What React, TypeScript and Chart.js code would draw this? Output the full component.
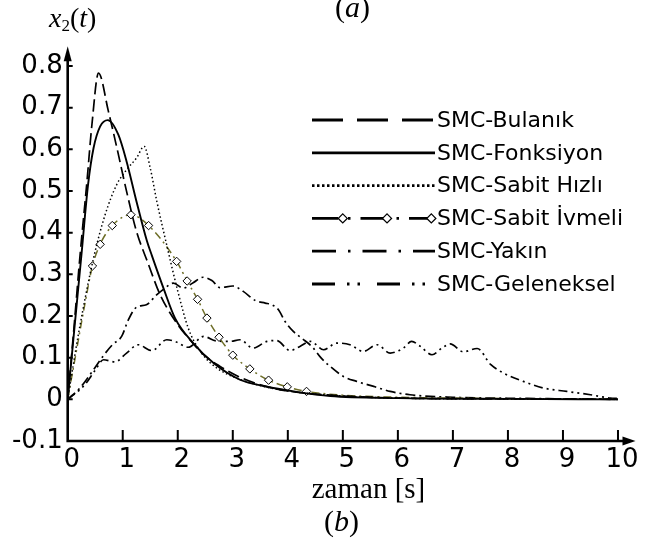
import React, { useEffect, useRef } from 'react';
import { Chart, registerables } from 'chart.js';

Chart.register(...registerables);

// ---- data ----
const xTicks = [0, 1, 2, 3, 4, 5, 6, 7, 8, 9, 10];
const yTicks = [-0.1, 0, 0.1, 0.2, 0.3, 0.4, 0.5, 0.6, 0.7, 0.8];

const seriesLabels = [
  'SMC-Bulanık',
  'SMC-Fonksiyon',
  'SMC-Sabit Hızlı',
  'SMC-Sabit İvmeli',
  'SMC-Yakın',
  'SMC-Geleneksel',
];

const tBulanik = [0, 0.1, 0.22, 0.35, 0.44, 0.56, 0.74, 0.9, 1.07, 1.25, 1.45, 1.68, 1.98, 2.22, 2.47, 2.77, 3.1, 3.5, 4.0, 5.0, 6.0, 8.0, 10];
const vBulanik = [0, 0.15, 0.339, 0.523, 0.659, 0.783, 0.691, 0.6, 0.499, 0.403, 0.33, 0.251, 0.183, 0.143, 0.107, 0.079, 0.055, 0.035, 0.02, 0.008, 0.003, 0.001, 0];

const tFonksiyon = [0, 0.1, 0.25, 0.37, 0.47, 0.59, 0.73, 0.92, 1.07, 1.25, 1.44, 1.53, 1.74, 1.95, 2.28, 2.65, 3.13, 3.56, 4.16, 4.77, 6.0, 8.0, 10];
const vFonksiyon = [0, 0.14, 0.347, 0.515, 0.603, 0.655, 0.67, 0.635, 0.571, 0.475, 0.38, 0.345, 0.267, 0.195, 0.135, 0.087, 0.047, 0.032, 0.018, 0.008, 0.003, 0.001, 0];

const tHizli = [0, 0.2, 0.47, 0.68, 0.89, 1.07, 1.25, 1.39, 1.5, 1.62, 1.8, 2.0, 2.19, 2.41, 2.71, 3.07, 3.5, 4.0, 5.0, 6.0, 8.0, 10];
const vHizli = [0, 0.16, 0.339, 0.443, 0.515, 0.551, 0.579, 0.607, 0.555, 0.475, 0.37, 0.26, 0.171, 0.115, 0.075, 0.051, 0.033, 0.02, 0.008, 0.003, 0.001, 0];

const tIvmeli = [0, 0.15, 0.3, 0.45, 0.59, 0.81, 1.15, 1.47, 1.98, 2.17, 2.36, 2.53, 2.75, 3.0, 3.31, 3.65, 3.99, 4.34, 5.0, 6.0, 7.0, 8.5, 10];
const vIvmeli = [0, 0.11, 0.22, 0.32, 0.372, 0.417, 0.443, 0.417, 0.331, 0.284, 0.24, 0.195, 0.149, 0.106, 0.073, 0.046, 0.03, 0.019, 0.01, 0.005, 0.003, 0.001, 0];

const tYakin = [0, 0.22, 0.47, 0.65, 0.82, 0.98, 1.1, 1.25, 1.43, 1.61, 1.75, 1.92, 2.1, 2.28, 2.46, 2.62, 2.77, 3.0, 3.19, 3.41, 3.59, 3.71, 3.83, 3.95, 4.1, 4.25, 4.45, 4.6, 4.77, 5.01, 5.25, 5.56, 5.86, 6.22, 7.0, 8.5, 10];
const vYakin = [0, 0.027, 0.071, 0.105, 0.132, 0.151, 0.19, 0.221, 0.227, 0.25, 0.265, 0.279, 0.267, 0.28, 0.293, 0.285, 0.268, 0.272, 0.259, 0.237, 0.231, 0.227, 0.215, 0.187, 0.163, 0.147, 0.125, 0.1, 0.079, 0.055, 0.043, 0.031, 0.019, 0.011, 0.005, 0.002, 0];

const tGeleneksel = [0, 0.31, 0.5, 0.65, 0.86, 1.07, 1.28, 1.53, 1.8, 1.95, 2.19, 2.47, 2.7, 2.95, 3.13, 3.37, 3.62, 3.8, 4.04, 4.22, 4.41, 4.65, 4.89, 5.13, 5.37, 5.62, 5.86, 6.1, 6.25, 6.41, 6.62, 6.8, 6.95, 7.19, 7.44, 7.69, 7.92, 8.28, 8.65, 9.07, 9.5, 9.86, 10];
const vGeleneksel = [0, 0.035, 0.07, 0.095, 0.09, 0.111, 0.131, 0.117, 0.143, 0.139, 0.125, 0.151, 0.14, 0.139, 0.143, 0.123, 0.139, 0.141, 0.117, 0.127, 0.139, 0.119, 0.135, 0.131, 0.115, 0.131, 0.111, 0.123, 0.139, 0.127, 0.107, 0.123, 0.133, 0.114, 0.122, 0.083, 0.063, 0.043, 0.027, 0.019, 0.011, 0.003, 0.002];

// ---- styles ----
const SANS = '"DejaVu Sans", sans-serif';
const SERIF = '"Liberation Serif", "Times New Roman", serif';
const OLIVE = '#6e6e28';

const pts = (t: number[], v: number[]) => t.map((x, i) => ({ x, y: v[i] }));

const legendDash: number[][] = [
  [31, 14],
  [],
  [2.5, 2.5],
  [26, 10, 2.5, 10],
  [24, 12, 2.5, 12],
  [23, 12, 2.5, 8, 2.5, 17],
];

const decorPlugin = {
  id: 'decor',
  afterDraw(chart: any) {
    const { ctx } = chart;
    const xs = chart.scales.x;
    const ys = chart.scales.y;
    const x0 = xs.getPixelForValue(0);
    const yb = ys.getPixelForValue(-0.1);
    const xEnd = xs.right;
    const yTop = ys.top;
    ctx.save();
    ctx.strokeStyle = '#000';
    ctx.fillStyle = '#000';
    ctx.setLineDash([]);
    ctx.lineCap = 'butt';
    // axes
    ctx.lineWidth = 2.6;
    ctx.beginPath();
    ctx.moveTo(x0, yb + 1.3);
    ctx.lineTo(x0, yTop + 8);
    ctx.moveTo(x0 - 1.3, yb);
    ctx.lineTo(xEnd - 8, yb);
    ctx.stroke();
    // arrows
    ctx.beginPath();
    ctx.moveTo(x0, yTop - 3);
    ctx.lineTo(x0 - 4, yTop + 12);
    ctx.lineTo(x0 + 4, yTop + 12);
    ctx.closePath();
    ctx.fill();
    ctx.beginPath();
    ctx.moveTo(xEnd + 1, yb);
    ctx.lineTo(xEnd - 12, yb - 4.5);
    ctx.lineTo(xEnd - 12, yb + 4.5);
    ctx.closePath();
    ctx.fill();
    // ticks (inward)
    ctx.lineWidth = 2;
    ctx.beginPath();
    xTicks.forEach((t) => {
      if (t === 0) return;
      const px = xs.getPixelForValue(t);
      ctx.moveTo(px, yb);
      ctx.lineTo(px, yb - 11);
    });
    yTicks.forEach((v) => {
      const py = ys.getPixelForValue(v);
      ctx.moveTo(x0, py);
      ctx.lineTo(x0 + 5, py);
    });
    ctx.stroke();

    // legend
    const lx1 = 312;
    const lx2 = 435;
    const ly0 = 120;
    const ldy = 32.8;
    chart.data.datasets.forEach((ds: any, i: number) => {
      const yy = ly0 + i * ldy;
      ctx.save();
      ctx.strokeStyle = '#000';
      ctx.lineWidth = 2.8;
      ctx.setLineDash(legendDash[i]);
      ctx.beginPath();
      ctx.moveTo(lx1, yy);
      ctx.lineTo(lx2, yy);
      ctx.stroke();
      ctx.setLineDash([]);
      if (ds.pointStyle === 'rectRot') {
        [0.25, 0.61, 0.97].forEach((f) => {
          const cx = lx1 + (lx2 - lx1) * f;
          const r = 4.5;
          ctx.beginPath();
          ctx.moveTo(cx, yy - r);
          ctx.lineTo(cx + r, yy);
          ctx.lineTo(cx, yy + r);
          ctx.lineTo(cx - r, yy);
          ctx.closePath();
          ctx.fillStyle = '#fff';
          ctx.fill();
          ctx.lineWidth = 1.3;
          ctx.stroke();
        });
      }
      ctx.fillStyle = '#000';
      ctx.font = `22px ${SANS}`;
      ctx.textBaseline = 'middle';
      ctx.textAlign = 'left';
      ctx.fillText(ds.label, lx2 + 2, yy + 1);
      ctx.restore();
    });

    // texts
    ctx.fillStyle = '#000';
    ctx.textBaseline = 'alphabetic';
    ctx.textAlign = 'left';
    const seq = (parts: [string, string, number][], startX: number, baseY: number) => {
      let cx = startX;
      parts.forEach(([txt, font, dy]) => {
        ctx.font = font;
        ctx.fillText(txt, cx, baseY + dy);
        cx += ctx.measureText(txt).width;
      });
    };
    const seqWidth = (parts: [string, string, number][]) => {
      let w = 0;
      parts.forEach(([txt, font]) => {
        ctx.font = font;
        w += ctx.measureText(txt).width;
      });
      return w;
    };
    // y label x2(t)
    seq(
      [
        ['x', `italic 28px ${SERIF}`, 0],
        ['2', `17px ${SERIF}`, 4],
        ['(', `28px ${SERIF}`, 0],
        ['t', `italic 28px ${SERIF}`, 0],
        [')', `28px ${SERIF}`, 0],
      ],
      49,
      27
    );
    // (a)
    const aParts: [string, string, number][] = [
      ['(', `30px ${SERIF}`, 0],
      ['a', `italic 30px ${SERIF}`, 0],
      [')', `30px ${SERIF}`, 0],
    ];
    seq(aParts, 352.5 - seqWidth(aParts) / 2, 16.5);
    // zaman [s]
    ctx.font = `29px ${SERIF}`;
    ctx.textAlign = 'center';
    ctx.fillText('zaman [s]', 368.5, 498);
    ctx.textAlign = 'left';
    // (b)
    const bParts: [string, string, number][] = [
      ['(', `30px ${SERIF}`, 0],
      ['b', `italic 30px ${SERIF}`, 0],
      [')', `30px ${SERIF}`, 0],
    ];
    seq(bParts, 341.5 - seqWidth(bParts) / 2, 531);
    ctx.restore();
  },
};

export default function App() {
  const ref = useRef<HTMLCanvasElement>(null);
  useEffect(() => {
    if (!ref.current) return;
    const line = (label: string, t: number[], v: number[], extra: any) => ({
      label,
      data: pts(t, v),
      borderColor: '#000',
      backgroundColor: '#000',
      borderWidth: 1.6,
      pointRadius: 0,
      fill: false,
      cubicInterpolationMode: 'monotone',
      ...extra,
    });
    const chart = new Chart(ref.current, {
      type: 'line',
      data: {
        datasets: [
          line(seriesLabels[0], tBulanik, vBulanik, { borderDash: [12, 5], borderWidth: 1.7 }),
          line(seriesLabels[1], tFonksiyon, vFonksiyon, { borderWidth: 1.9 }),
          line(seriesLabels[2], tHizli, vHizli, { borderDash: [1.5, 2.5], borderWidth: 1.5 }),
          line(seriesLabels[3], tIvmeli, vIvmeli, {
            borderColor: OLIVE,
            borderDash: [8, 4, 2, 4],
            borderWidth: 1.5,
            pointStyle: 'rectRot',
            pointRadius: (c: any) => (c.raw && c.raw.x >= 0.4 && c.raw.x <= 4.4 ? 4.2 : 0),
            pointBackgroundColor: '#fff',
            pointBorderColor: '#000',
            pointBorderWidth: 1,
          }),
          line(seriesLabels[4], tYakin, vYakin, { borderDash: [10, 4, 2, 4], borderWidth: 1.7 }),
          line(seriesLabels[5], tGeleneksel, vGeleneksel, { borderDash: [9, 4, 2, 4, 2, 4], borderWidth: 1.7 }),
        ],
      },
      options: {
        responsive: false,
        animation: false,
        events: [],
        layout: { padding: { top: 49.3, right: 19.5, left: 0, bottom: 0 } },
        plugins: { legend: { display: false }, tooltip: { enabled: false } },
        scales: {
          x: {
            type: 'linear',
            min: 0,
            max: 10.3,
            grid: { display: false, drawTicks: false },
            border: { display: false },
            ticks: {
              color: '#000',
              font: { family: SANS, size: 26 },
              padding: 4,
              labelOffset: 4,
              maxRotation: 0,
              autoSkip: false,
              callback: (v: any) => String(v),
            },
            afterBuildTicks: (s: any) => {
              s.ticks = xTicks.map((v) => ({ value: v }));
            },
            afterFit: (s: any) => {
              s.height = 102;
            },
          },
          y: {
            type: 'linear',
            min: -0.1,
            max: 0.84,
            grid: { display: false, drawTicks: false },
            border: { display: false },
            ticks: {
              color: '#000',
              font: { family: SANS, size: 26 },
              padding: 5,
              autoSkip: false,
              callback: (v: any) => (Math.abs(Number(v)) < 1e-9 ? '0' : Number(v).toFixed(1)),
            },
            afterBuildTicks: (s: any) => {
              s.ticks = yTicks.map((v) => ({ value: v }));
            },
            afterFit: (s: any) => {
              s.width = 67.7;
            },
          },
        },
      },
      plugins: [decorPlugin],
    } as any);
    return () => chart.destroy();
  }, []);
  return (
    <div style={{ position: 'fixed', left: 0, top: 0, width: 654, height: 543, background: '#fff' }}>
      <canvas ref={ref} width={654} height={543} style={{ display: 'block' }} />
    </div>
  );
}
